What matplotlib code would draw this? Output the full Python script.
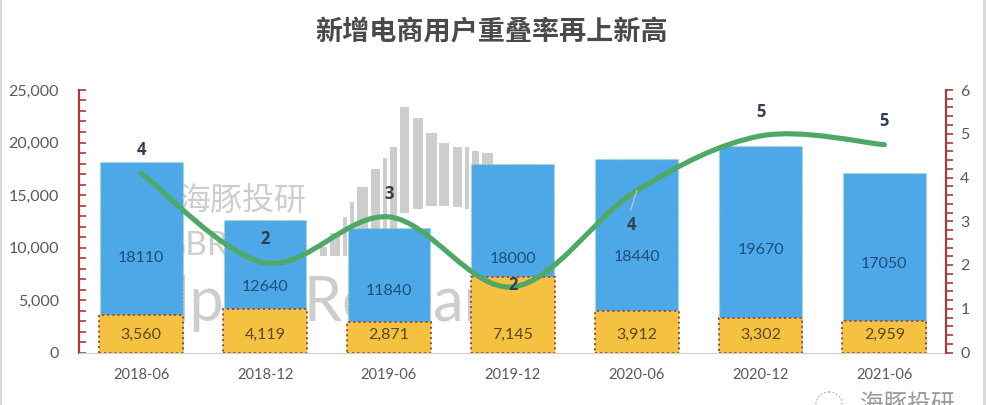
import numpy as np
import matplotlib
matplotlib.use("Agg")
import matplotlib.pyplot as plt
from matplotlib.path import Path
from matplotlib.patches import PathPatch, Rectangle, Ellipse
from matplotlib.ticker import MultipleLocator, FuncFormatter

plt.rcParams['font.family'] = ['Lato', 'Noto Sans CJK SC', 'DejaVu Sans']

periods = ['2018-06', '2018-12', '2019-06', '2019-12', '2020-06', '2020-12', '2021-06']
total_users = [18110, 12640, 11840, 18000, 18440, 19670, 17050]
overlap_users = [3560, 4119, 2871, 7145, 3912, 3302, 2959]
overlap_rate = [4.1, 2.05, 3.1, 1.5, 3.7, 4.95, 4.75]
rate_labels = ['4', '2', '3', '2', '4', '5', '5']
rate_label_offsets = [(0, 23), (0, 24), (0, 23), (0, 2), (-5, -34), (0, 24), (0, 24)]
title = '新增电商用户重叠率再上新高'

W, H = 986, 405
BLUE, YELLOW, GREEN = '#4CA8E6', '#F4C140', '#4FA866'
RED = '#A83A3A'
GREY = '#595959'

fig = plt.figure(figsize=(W / 100, H / 100), dpi=100, facecolor='white')
ax = fig.add_axes([79.3 / W, (H - 352.5) / H, 867 / W, 262.5 / H], zorder=2)
ax.set_facecolor('none')
x = np.arange(len(periods))

# picture-space decoration (watermark, frame), measured in pixels from top-left
px = matplotlib.transforms.Affine2D().scale(1, -1).translate(0, H)
wm = '#CDCDCD'
logo_left = [320, 330, 343, 350, 357, 371, 383, 390, 400, 413, 426, 439, 453, 465, 472, 482]
logo_right = [327, 340, 347, 354, 368, 380, 387, 397, 409, 423, 437, 449, 462, 469, 479, 493]
logo_top = [247, 233, 217, 202, 187, 169, 158, 147, 107, 118, 133, 143, 147, 147, 151, 153]
logo_bottom = [256, 256, 256, 256, 256, 256, 256, 256, 213, 209, 206, 206, 207, 209, 225, 225]
for l, r, t, b in zip(logo_left, logo_right, logo_top, logo_bottom):
    fig.add_artist(Rectangle((l, t), r - l, b - t, transform=px, fc=wm, ec='none', zorder=0))
fig.text(243 / W, 1 - 201 / H, '海豚投研', fontsize=23, color=wm, ha='center', va='center', zorder=0,
         family=['Noto Sans CJK SC'])
fig.text(161 / W, 1 - 246 / H, 'GBR', fontsize=24, color=wm, ha='left', va='center', zorder=0)
fig.text(175 / W, 1 - 303 / H, 'lpha Research', fontsize=44, color=wm, ha='left', va='center', zorder=0)

# bars
ax.bar(x, total_users, width=0.667, color=BLUE, edgecolor='#A8D5B0', linewidth=1, linestyle=':', zorder=2)
ax.bar(x, overlap_users, width=0.677, color=YELLOW, edgecolor='#A8452C', linewidth=1.4, linestyle=':', zorder=3)
for xi, v, o in zip(x, total_users, overlap_users):
    ax.annotate(str(v), (xi, v / 2), xytext=(0, -1), textcoords='offset pixels', ha='center', va='center',
                fontsize=11.5, color='#1F4E79', zorder=6)
    ax.annotate(f'{o:,}', (xi, 0), xytext=(0, 17.5), textcoords='offset pixels', ha='center', va='center',
                fontsize=11.5, color='#5A4A1E', zorder=6)

ax.set_xlim(-0.5, 6.5)
ax.set_ylim(0, 25000)
ax.set_xticks(x, periods)
ax.yaxis.set_major_locator(MultipleLocator(5000))
ax.yaxis.set_minor_locator(MultipleLocator(1000))
ax.yaxis.set_major_formatter(FuncFormatter(lambda v, _: f'{int(v):,}'))
ax.tick_params(axis='x', length=0, labelsize=10.5, labelcolor=GREY, pad=11)
ax.tick_params(axis='y', which='both', direction='in', color=RED, length=5, width=1.2,
               labelsize=11.5, labelcolor=GREY, pad=14.5)
for s in ('top', 'right'):
    ax.spines[s].set_visible(False)
ax.spines['bottom'].set_color('#D0D0D0')
ax.spines['left'].set_color(RED)
ax.spines['left'].set_linewidth(1.6)

# right axis + smooth line (Catmull-Rom bezier through the data, as the spreadsheet draws it)
ax2 = ax.twinx()
ax2.set_facecolor('none')
ax2.set_ylim(0, 6)
ax2.yaxis.set_major_locator(MultipleLocator(1))
ax2.yaxis.set_minor_locator(MultipleLocator(0.2))
ax2.tick_params(axis='y', which='both', direction='out', color=RED, length=5, width=1.2,
                labelsize=11.5, labelcolor=GREY, pad=5)
for s in ('top', 'left', 'bottom'):
    ax2.spines[s].set_visible(False)
ax2.spines['right'].set_color(RED)
ax2.spines['right'].set_linewidth(1.6)

pts = np.column_stack([x, overlap_rate]).astype(float)
padded = np.vstack([pts[0], pts, pts[-1]])
verts, codes = [pts[0]], [Path.MOVETO]
for i in range(1, len(padded) - 2):
    p0, p1, p2, p3 = padded[i - 1], padded[i], padded[i + 1], padded[i + 2]
    verts += [p1 + (p2 - p0) / 6, p2 - (p3 - p1) / 6, p2]
    codes += [Path.CURVE4] * 3
ax2.add_patch(PathPatch(Path(verts, codes), fc='none', ec=GREEN, lw=3.7, capstyle='round', zorder=5))

for xi, yi, lab, off in zip(x, overlap_rate, rate_labels, rate_label_offsets):
    ax2.annotate(lab, (xi, yi), xytext=off, textcoords='offset pixels', ha='center', va='center',
                 fontsize=12, fontweight='bold', color='#333F50', zorder=7, family=['Open Sans'])
ax2.annotate('', xy=(4, overlap_rate[4]), xytext=(-6, -20), textcoords='offset pixels',
             arrowprops=dict(arrowstyle='-', color='#BFBFBF', lw=1, shrinkA=0, shrinkB=0), zorder=7)

fig.text(491.5 / W, 1 - 32 / H, title, fontsize=19.5, fontweight='bold', color='#4A4A4A',
         ha='center', va='center', family=['Noto Sans CJK SC'])
fig.text(860 / W, 1 - 404 / H, '海豚投研', fontsize=17, color='#9A9A9A', ha='left', va='center',
         family=['Noto Sans CJK SC'])
fig.add_artist(Ellipse((829, 404), 26, 24, transform=px, fc='none', ec='#AAAAAA', lw=1, ls=':'))

# frame strips at the picture edges
fig.add_artist(Rectangle((0, 0), 2, H, transform=px, fc='#D9D9D9', ec='none'))
fig.add_artist(Rectangle((W - 3, 0), 3, H, transform=px, fc='#D9D9D9', ec='none'))

fig.savefig('out.png', dpi=100)
